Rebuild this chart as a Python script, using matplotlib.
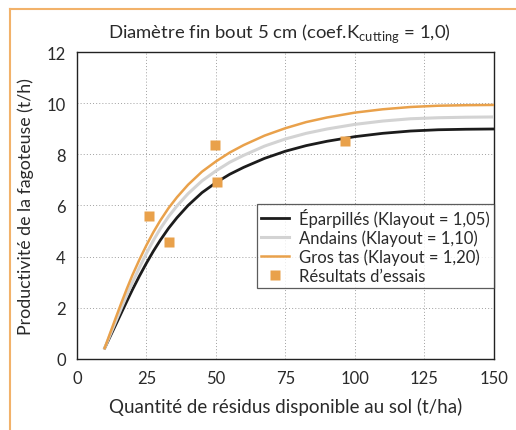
import matplotlib
matplotlib.use("Agg")
import matplotlib.pyplot as plt
from matplotlib.lines import Line2D

plt.rcParams['font.family'] = ['Lato', 'DejaVu Sans']

# values
x_curve = [10, 12, 14, 16, 18, 20, 22.5, 25, 27.5, 30, 33, 36, 40, 45, 50, 55, 60,
           67.5, 75, 82.5, 90, 100, 110, 120, 130, 140, 150]
y_eparpilles = [0.42, 0.88, 1.34, 1.80, 2.26, 2.71, 3.24, 3.74, 4.21, 4.64, 5.11,
                5.52, 6.00, 6.50, 6.89, 7.22, 7.49, 7.84, 8.12, 8.34, 8.51, 8.69,
                8.82, 8.91, 8.96, 8.98, 8.99]
y_andains = [0.42, 0.95, 1.47, 1.99, 2.50, 2.99, 3.57, 4.12, 4.63, 5.09, 5.57,
             5.98, 6.46, 6.96, 7.35, 7.69, 7.96, 8.32, 8.60, 8.82, 8.99, 9.17,
             9.30, 9.39, 9.43, 9.45, 9.46]
y_gros_tas = [0.42, 1.02, 1.61, 2.19, 2.75, 3.28, 3.88, 4.44, 4.95, 5.41, 5.90,
              6.32, 6.81, 7.32, 7.72, 8.07, 8.36, 8.73, 9.02, 9.26, 9.44, 9.63,
              9.76, 9.85, 9.90, 9.92, 9.93]

x_essais = [25.8, 33.1, 49.6, 50.4, 96.4]
y_essais = [5.57, 4.58, 8.35, 6.90, 8.52]

labels = ['Éparpillés (Klayout = 1,05)', 'Andains (Klayout = 1,10)',
          'Gros tas (Klayout = 1,20)', 'Résultats d\u2019essais']
x_ticks = [0, 25, 50, 75, 100, 125, 150]
y_ticks = [0, 2, 4, 6, 8, 10, 12]

orange = '#E9A14B'
grey = '#D3D3D3'
black = '#1C1C1C'
text_col = '#2A2A2A'

fig = plt.figure(figsize=(5.16, 4.31), dpi=100)
ax = fig.add_axes([0.149, 0.165, 0.808, 0.712])

# orange frame on top and left
fig.add_artist(Line2D([0.020, 1.0], [0.977, 0.977], color='#F2B26A', lw=1.5,
                      transform=fig.transFigure))
fig.add_artist(Line2D([0.020, 0.020], [0.0, 0.977], color='#F2B26A', lw=1.5,
                      transform=fig.transFigure))

ax.plot(x_curve, y_eparpilles, color=black, lw=2.0, label=labels[0], zorder=3)
ax.plot(x_curve, y_andains, color=grey, lw=2.2, label=labels[1], zorder=3)
ax.plot(x_curve, y_gros_tas, color=orange, lw=1.8, label=labels[2], zorder=3)
ax.plot(x_essais, y_essais, 's', color=orange, ms=6.5, mec='none',
        label=labels[3], zorder=4)

ax.set_xlim(0, 150)
ax.set_ylim(0, 12)
ax.set_xticks(x_ticks)
ax.set_yticks(y_ticks)
ax.tick_params(axis='both', length=0, labelsize=12, colors=text_col, pad=8)
ax.set_xticks(x_ticks[1:-1], minor=True)
ax.set_yticks(y_ticks[1:-1], minor=True)
ax.tick_params(which='minor', length=4, width=0.6, color='#A8A8A8')

ax.grid(True, which='major', color='#A0A0A0', lw=0.7, linestyle=(0, (1, 2.2)))
ax.set_axisbelow(True)
for sp in ax.spines.values():
    sp.set_color('#222222')
    sp.set_linewidth(1.0)

ax.set_xlabel('Quantité de résidus disponible au sol (t/ha)', fontsize=13.5,
              color=text_col, labelpad=8)
ax.set_ylabel('Productivité de la fagoteuse (t/h)', fontsize=12.8,
              color=text_col, labelpad=9)

fig.text(0.541, 0.923, 'Diamètre fin bout 5 cm (coef.K$_{\\mathregular{cutting}}$ = 1,0)',
         ha='center', va='center', fontsize=13.3, color=text_col)

leg = ax.legend(loc='upper left', bbox_to_anchor=(0.432, 0.505), borderaxespad=0,
                fontsize=12, frameon=True, fancybox=False, handlelength=1.7,
                handletextpad=0.6, labelspacing=0.15, borderpad=0.25)
leg.get_frame().set_edgecolor('#333333')
leg.get_frame().set_linewidth(0.9)
for t in leg.get_texts():
    t.set_color(text_col)

fig.savefig('out.png', dpi=100)
